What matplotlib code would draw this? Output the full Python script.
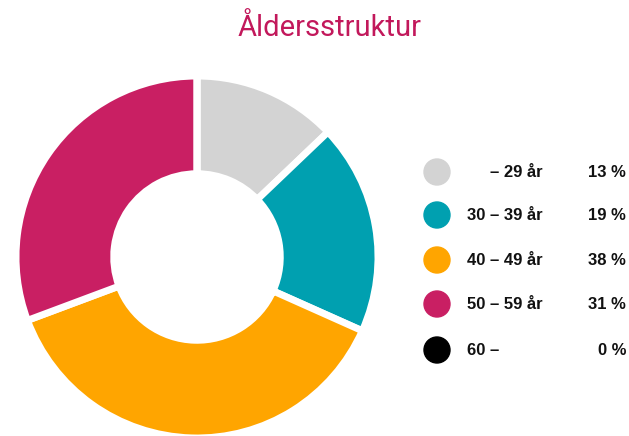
import matplotlib
matplotlib.use("Agg")
import matplotlib.pyplot as plt
from matplotlib.patches import Circle

plt.rcParams['font.family'] = ['Roboto', 'DejaVu Sans']

# data
labels = ['– 29 år', '30 – 39 år', '40 – 49 år', '50 – 59 år', '60 –']
shares = [13, 19, 38, 31, 0]
colors = ['#d3d3d3', '#00a0b0', '#ffa500', '#c91f63', '#000000']

W, H = 629, 436
fig = plt.figure(figsize=(W / 100, H / 100), dpi=100)

# donut, centre about (197, 257) px, radius 181 px
cx, cy, r = 197, 257, 181
ax = fig.add_axes([(cx - r) / W, (H - cy - r) / H, 2 * r / W, 2 * r / H])
ax.pie(shares, colors=colors, startangle=90, counterclock=False, radius=1,
       wedgeprops=dict(width=0.54, edgecolor='white', linewidth=5))
ax.set_xlim(-1, 1)
ax.set_ylim(-1, 1)
ax.set_aspect('equal')
ax.axis('off')

# overlay in pixel coords for title and legend
ov = fig.add_axes([0, 0, 1, 1], zorder=-1)
ov.set_xlim(0, W)
ov.set_ylim(H, 0)
ov.axis('off')

ov.text(330, 28, 'Åldersstruktur', color='#c2185b', fontsize=21,
        ha='center', va='center')

lfont = dict(family=['Liberation Sans', 'DejaVu Sans'], fontsize=12,
             fontweight='bold', va='center', color='#111111')
row_y = [172, 215, 260, 304, 350]
for lab, val, col, y in zip(labels, shares, colors, row_y):
    ov.add_patch(Circle((437, y), 13, color=col))
    if 'år' in lab:
        ov.text(543, y, lab, ha='right', **lfont)
    else:
        ov.text(467, y, lab, ha='left', **lfont)
    ov.text(626, y, f'{val} %', ha='right', **lfont)

fig.savefig('out.png', dpi=100)
